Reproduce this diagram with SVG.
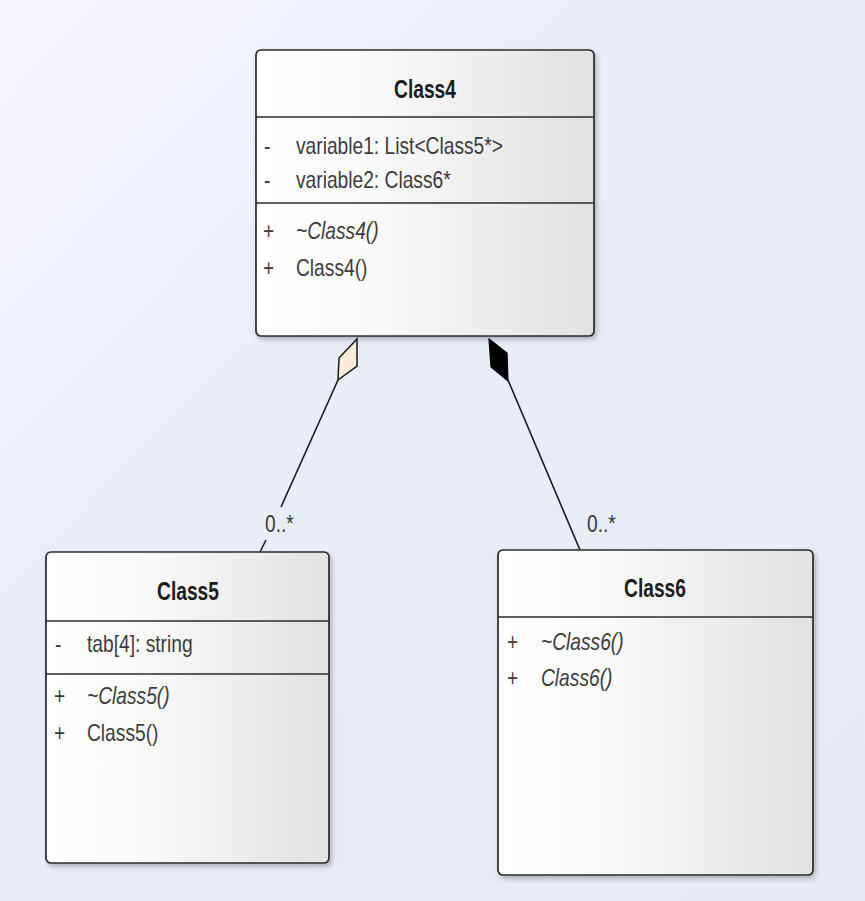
<svg xmlns="http://www.w3.org/2000/svg" width="865" height="901" viewBox="0 0 865 901">
  <defs>
    <linearGradient id="bg" x1="0" y1="0" x2="1" y2="1">
      <stop offset="0" stop-color="#f6f7fb"/>
      <stop offset="0.35" stop-color="#eaeef7"/>
      <stop offset="1" stop-color="#e6ebf5"/>
    </linearGradient>
    <linearGradient id="boxfill" x1="0" y1="0" x2="1" y2="0">
      <stop offset="0" stop-color="#ffffff"/>
      <stop offset="0.3" stop-color="#fbfbfb"/>
      <stop offset="1" stop-color="#e2e2e2"/>
    </linearGradient>
    <filter id="shadow" x="-10%" y="-10%" width="120%" height="120%">
      <feDropShadow dx="2" dy="3" stdDeviation="2.5" flood-color="#000" flood-opacity="0.25"/>
    </filter>
    <style>
      .box{fill:url(#boxfill);stroke:#2b2b2b;stroke-width:1.7;filter:url(#shadow)}
      .sep{stroke:#2b2b2b;stroke-width:1.6}
      .t{font-family:"Liberation Sans",Arial,sans-serif;font-size:20px;fill:#3c3c3c}
      .ti{font-style:italic}
      .h{font-family:"Liberation Sans",Arial,sans-serif;font-size:20px;font-weight:bold;fill:#1c1c1c;text-anchor:middle}
      .ln{stroke:#1a1a1a;stroke-width:1.6;fill:none}
    </style>
  </defs>
  <rect x="0" y="0" width="865" height="901" fill="url(#bg)"/>

  <g id="connectors">
    <line class="ln" x1="338" y1="380" x2="281" y2="507"/>
    <line class="ln" x1="266" y1="540" x2="260" y2="552"/>
    <polygon points="357,339 357,366 338,380 339,358" fill="#f8ecdc" stroke="#1a1a1a" stroke-width="1.5"/>
    <line class="ln" x1="508" y1="380" x2="580" y2="550"/>
    <polygon points="489,339 507,353 508,381 491,367" fill="#000" stroke="#000" stroke-width="1.2"/>
    <text class="t" transform="translate(265,532) scale(0.96,1.2)">0..*</text>
    <text class="t" transform="translate(587,532) scale(0.96,1.2)">0..*</text>
  </g>

  <g id="Class4">
    <rect class="box" x="256" y="50" width="338" height="286" rx="5"/>
    <line class="sep" x1="256" y1="117" x2="594" y2="117"/>
    <line class="sep" x1="256" y1="203" x2="594" y2="203"/>
    <text class="h" transform="translate(425,98) scale(0.96,1.25)">Class4</text>
    <text class="t" transform="translate(264,154) scale(0.96,1.2)">-</text>
    <text class="t" transform="translate(296,154) scale(0.96,1.2)">variable1: List&lt;Class5*&gt;</text>
    <text class="t" transform="translate(264,188) scale(0.96,1.2)">-</text>
    <text class="t" transform="translate(296,188) scale(0.96,1.2)">variable2: Class6*</text>
    <text class="t" transform="translate(263,239) scale(0.96,1.2)">+</text>
    <text class="t ti" transform="translate(296,239) scale(0.96,1.2)">~Class4()</text>
    <text class="t" transform="translate(263,276) scale(0.96,1.2)">+</text>
    <text class="t" transform="translate(296,276) scale(0.96,1.2)">Class4()</text>
  </g>

  <g id="Class5">
    <rect class="box" x="46" y="552" width="283" height="311" rx="5"/>
    <line class="sep" x1="46" y1="621" x2="329" y2="621"/>
    <line class="sep" x1="46" y1="674" x2="329" y2="674"/>
    <text class="h" transform="translate(188,600) scale(0.96,1.25)">Class5</text>
    <text class="t" transform="translate(55,652) scale(0.96,1.2)">-</text>
    <text class="t" transform="translate(87,652) scale(0.96,1.2)">tab[4]: string</text>
    <text class="t" transform="translate(54,704) scale(0.96,1.2)">+</text>
    <text class="t ti" transform="translate(87,704) scale(0.96,1.2)">~Class5()</text>
    <text class="t" transform="translate(54,741) scale(0.96,1.2)">+</text>
    <text class="t" transform="translate(87,741) scale(0.96,1.2)">Class5()</text>
  </g>

  <g id="Class6">
    <rect class="box" x="498" y="550" width="315" height="325" rx="5"/>
    <line class="sep" x1="498" y1="617" x2="813" y2="617"/>
    <text class="h" transform="translate(655,597) scale(0.96,1.25)">Class6</text>
    <text class="t" transform="translate(507,650) scale(0.96,1.2)">+</text>
    <text class="t ti" transform="translate(541,650) scale(0.96,1.2)">~Class6()</text>
    <text class="t" transform="translate(507,686) scale(0.96,1.2)">+</text>
    <text class="t ti" transform="translate(541,686) scale(0.96,1.2)">Class6()</text>
  </g>
</svg>
